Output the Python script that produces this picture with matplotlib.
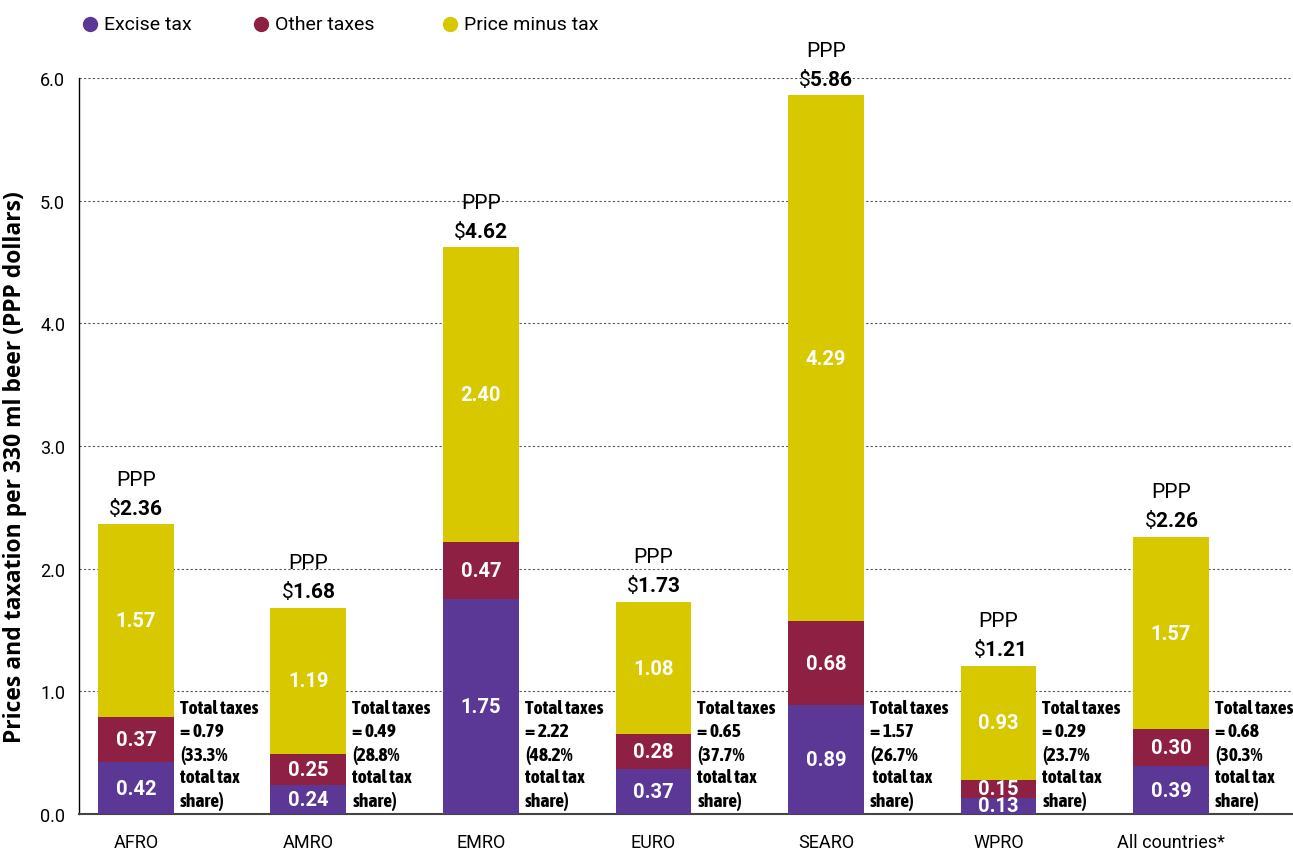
import matplotlib
import numpy as np
import matplotlib.pyplot as plt
from matplotlib.lines import Line2D

matplotlib.use('Agg')

plt.rcParams['font.family'] = ['Roboto', 'DejaVu Sans']
plt.rcParams['mathtext.fontset'] = 'custom'
plt.rcParams['mathtext.rm'] = 'Roboto'
plt.rcParams['mathtext.bf'] = 'Roboto:bold'

categories = ['AFRO', 'AMRO', 'EMRO', 'EURO', 'SEARO', 'WPRO', 'All countries*']
excise = [0.42, 0.24, 1.75, 0.37, 0.89, 0.13, 0.39]
other = [0.37, 0.25, 0.47, 0.28, 0.68, 0.15, 0.30]
price_minus = [1.57, 1.19, 2.40, 1.08, 4.29, 0.93, 1.57]
totals = [2.36, 1.68, 4.62, 1.73, 5.86, 1.21, 2.26]
total_tax = [0.79, 0.49, 2.22, 0.65, 1.57, 0.29, 0.68]
tax_share = ['33.3', '28.8', '48.2', '37.7', '26.7', '23.7', '30.3']
share_line = ['total tax', 'total tax', 'total tax', 'total tax', ' total tax', 'total tax', 'total tax']
legend_labels = ['Excise tax', 'Other taxes', 'Price minus tax']

c_excise = '#5b3895'
c_other = '#8e2044'
c_price = '#d8c800'
narrow = ['Asap Condensed', 'Archivo Narrow', 'Roboto Condensed', 'Roboto']

fig = plt.figure(figsize=(12.93, 8.54), dpi=100)
ax = fig.add_axes([0.0611, 0.0457, 0.9389, 0.8618])

x = np.arange(len(categories))
w = 0.44
exc = np.array(excise)
oth = np.array(other)
prc = np.array(price_minus)

ax.bar(x, exc, w, color=c_excise, zorder=3)
ax.bar(x, oth, w, bottom=exc, color=c_other, zorder=3)
ax.bar(x, prc, w, bottom=exc + oth, color=c_price, zorder=3)

for i in range(len(x)):
    for bottom, h in [(0, exc[i]), (exc[i], oth[i]), (exc[i] + oth[i], prc[i])]:
        ax.text(x[i], bottom + h / 2, f'{h:.2f}', ha='center', va='center',
                color='white', fontsize=14.5, fontweight='bold', zorder=4, clip_on=True)
    ax.annotate('PPP', (x[i], totals[i]), xytext=(0, 45), textcoords='offset pixels',
                ha='center', va='center', fontsize=15, annotation_clip=False)
    ax.annotate(r'\$$\mathbf{%.2f}$' % totals[i], (x[i], totals[i]), xytext=(0, 18),
                textcoords='offset pixels', ha='center', va='center', fontsize=15,
                annotation_clip=False)
    note = f'Total taxes\n= {total_tax[i]:.2f}\n({tax_share[i]}%\n{share_line[i]}\nshare)'
    ax.annotate(note, (x[i] + w / 2, 0.03), xytext=(6, 0), textcoords='offset pixels',
                ha='left', va='bottom', fontsize=14, fontweight='bold',
                family=narrow, linespacing=1.33)

ax.set_xlim(-0.330, 6.707)
ax.set_ylim(0, 6)
ax.set_yticks(np.arange(0, 7, 1))
ax.set_yticklabels([f'{v:.1f}' for v in np.arange(0, 7, 1)], fontsize=13)
ax.set_xticks(x)
ax.set_xticklabels(categories, fontsize=13)
ax.tick_params(axis='both', length=0)
ax.tick_params(axis='x', pad=14)
ax.tick_params(axis='y', pad=10)

ax.grid(axis='y', color='#555555', linestyle=(0, (2, 2)), linewidth=0.8, zorder=0)
ax.spines['top'].set_visible(False)
ax.spines['right'].set_visible(False)
ax.spines['left'].set_color('black')
ax.spines['left'].set_linewidth(1.0)
ax.spines['bottom'].set_color('#444444')
ax.spines['bottom'].set_linewidth(1.5)

ax.set_ylabel('Prices and taxation per 330 ml beer (PPP dollars)', fontsize=16.5,
              fontweight='bold', family=['Open Sans', 'Roboto'])
ax.yaxis.set_label_coords(-0.043, 0.472)

# legend drawn by hand along the top
for lx, c, lab in zip([90, 261, 450], [c_excise, c_other, c_price], legend_labels):
    fig.add_artist(Line2D([lx / 1293], [1 - 25 / 854], marker='o', markersize=10,
                          color=c, linestyle='none', transform=fig.transFigure))
    fig.text((lx + 14) / 1293, 1 - 25 / 854, lab, fontsize=14, va='center', ha='left')

fig.savefig('out.png', dpi=100)
